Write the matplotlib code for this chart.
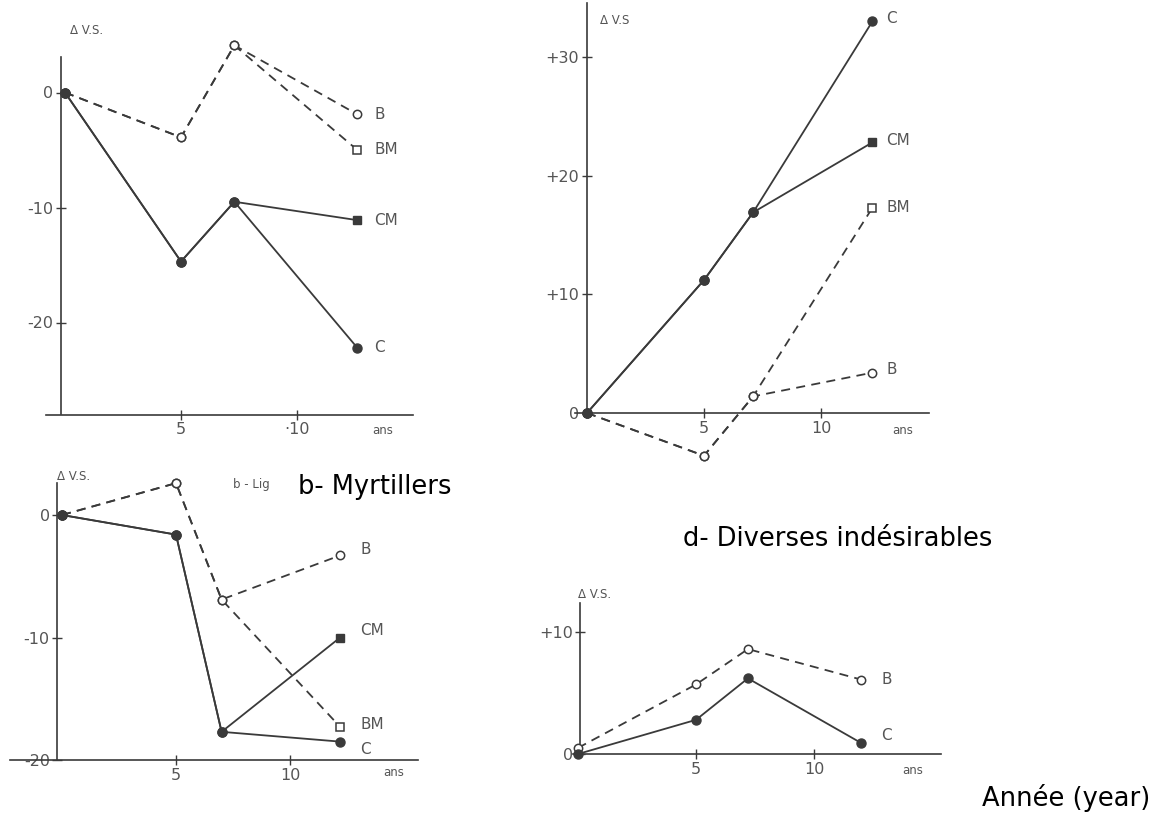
import matplotlib
matplotlib.use("Agg")
import matplotlib.pyplot as plt

W, H = 1164, 814

# top left panel
tl_x = [0, 5, 7.3, 12.6]
tl_B = [0, -3.9, 4.1, -1.9]
tl_BM = [0, -3.9, 4.1, -5.0]
tl_C = [0, -14.7, -9.5, -22.2]
tl_CM = [0, -14.7, -9.5, -11.1]

# top right panel
tr_x = [0, 5, 7.1, 12.2]
tr_C = [0, 11.2, 16.9, 33.0]
tr_CM = [0, 11.2, 16.9, 22.8]
tr_BM = [0, -3.6, 1.4, 17.3]
tr_B = [0, -3.6, 1.4, 3.4]

# bottom left panel
bl_x = [0, 5, 7.0, 12.2]
bl_B = [0, 2.6, -6.9, -3.3]
bl_BM = [0, 2.6, -6.9, -17.3]
bl_C = [0, -1.6, -17.7, -18.5]
bl_CM = [0, -1.6, -17.7, -10.0]

# bottom right panel
br_x = [0, 5, 7.2, 12.0]
br_B = [0.5, 5.7, 8.6, 6.1]
br_C = [0, 2.8, 6.2, 0.9]

ink = "#3a3a3a"
grey = "#555555"
plt.rcParams["font.family"] = ["DejaVu Sans"]

fig = plt.figure(figsize=(W / 100, H / 100), dpi=100)


def px_axes(xlim, ylim, x0, xs, y0, ys):
    left = x0 + xlim[0] * xs
    right = x0 + xlim[1] * xs
    top = y0 - ylim[1] * ys
    bottom = y0 - ylim[0] * ys
    ax = fig.add_axes([left / W, 1 - bottom / H, (right - left) / W, (bottom - top) / H])
    ax.set_xlim(xlim)
    ax.set_ylim(ylim)
    ax.patch.set_alpha(0)
    for s in ["top", "right"]:
        ax.spines[s].set_visible(False)
    for s in ["left", "bottom"]:
        ax.spines[s].set_color(ink)
        ax.spines[s].set_linewidth(1.2)
    ax.tick_params(direction="inout", length=7, width=1.0, color=ink,
                   labelsize=11.5, labelcolor=grey, pad=2)
    return ax


def solid(ax, x, y, end_marker, label, dx=17, dy=0):
    ax.plot(x, y, color=ink, lw=1.3, clip_on=False, zorder=3)
    ax.plot(x[:-1], y[:-1], "o", color=ink, ms=6.5, clip_on=False, zorder=4)
    ax.plot(x[-1:], y[-1:], end_marker, color=ink, ms=6.5 if end_marker == "o" else 5.5,
            clip_on=False, zorder=4)
    ax.annotate(label, (x[-1], y[-1]), xytext=(dx, dy), textcoords="offset pixels",
                fontsize=11, color=grey, va="center", ha="left", annotation_clip=False)


def dashed(ax, x, y, end_marker, label, dx=17, dy=0):
    ax.plot(x, y, color=ink, lw=1.3, dashes=(5, 3.5), clip_on=False, zorder=3)
    ax.plot(x[:-1], y[:-1], "o", mfc="white", mec=ink, mew=1.1, ms=6,
            clip_on=False, zorder=4)
    ax.plot(x[-1:], y[-1:], end_marker, mfc="white", mec=ink, mew=1.1,
            ms=6 if end_marker == "o" else 5.5, clip_on=False, zorder=4)
    ax.annotate(label, (x[-1], y[-1]), xytext=(dx, dy), textcoords="offset pixels",
                fontsize=11, color=grey, va="center", ha="left", annotation_clip=False)


# top left
ax1 = px_axes((-0.8, 15.0), (-28, 3.1), 65, 23.2, 92.5, 11.5)
ax1.spines["left"].set_position(("data", -0.17))
ax1.set_xticks([5, 10], ["5", "·10"])
ax1.set_yticks([0, -10, -20], ["0", "-10", "-20"])
dashed(ax1, tl_x, tl_BM, "s", "BM")
dashed(ax1, tl_x, tl_B, "o", "B")
solid(ax1, tl_x, tl_CM, "s", "CM")
solid(ax1, tl_x, tl_C, "o", "C")

# top right
ax2 = px_axes((-0.5, 14.6), (-4.8, 34.5), 587, 23.4, 413, 11.87)
ax2.spines["left"].set_position(("data", 0))
ax2.spines["left"].set_bounds(0, 34.5)
ax2.spines["bottom"].set_position(("data", 0))
ax2.set_xticks([5, 10], ["5", "10"])
ax2.set_yticks([0, 10, 20, 30], ["0", "+10", "+20", "+30"])
dashed(ax2, tr_x, tr_BM, "s", "BM", dx=14)
dashed(ax2, tr_x, tr_B, "o", "B", dx=14, dy=3)
solid(ax2, tr_x, tr_CM, "s", "CM", dx=14, dy=2)
solid(ax2, tr_x, tr_C, "o", "C", dx=14, dy=3)

# bottom left
ax3 = px_axes((-2.3, 15.6), (-20, 2.6), 62, 22.8, 515, 12.25)
ax3.spines["left"].set_position(("data", -0.2))
ax3.set_xticks([5, 10], ["5", "10"])
ax3.set_yticks([0, -10, -20], ["0", "-10", "-20"])
dashed(ax3, bl_x, bl_BM, "s", "BM", dx=20, dy=2)
dashed(ax3, bl_x, bl_B, "o", "B", dx=20, dy=6)
solid(ax3, bl_x, bl_CM, "s", "CM", dx=20, dy=7)
solid(ax3, bl_x, bl_C, "o", "C", dx=20, dy=-8)

# bottom right
ax4 = px_axes((-0.2, 15.4), (-0.6, 12.4), 578, 23.6, 754, 12.2)
ax4.spines["left"].set_position(("data", 0.1))
ax4.spines["left"].set_bounds(0, 12.4)
ax4.spines["bottom"].set_position(("data", 0))
ax4.set_xticks([5, 10], ["5", "10"])
ax4.set_yticks([0, 10], ["0", "+10"])
dashed(ax4, br_x, br_B, "o", "B", dx=20)
solid(ax4, br_x, br_C, "o", "C", dx=20, dy=8)

# axis captions from the scan
small = dict(fontsize=8.5, color=grey, ha="left", va="center")
fig.text(70 / W, 1 - 30 / H, "Δ V.S.", **small)
fig.text(372 / W, 1 - 430 / H, "ans", **small)
fig.text(600 / W, 1 - 20 / H, "Δ V.S", **small)
fig.text(892 / W, 1 - 430 / H, "ans", **small)
fig.text(57 / W, 1 - 477 / H, "Δ V.S.", **small)
fig.text(383 / W, 1 - 772 / H, "ans", **small)
fig.text(233 / W, 1 - 485 / H, "b - Lig", **small)
fig.text(578 / W, 1 - 595 / H, "Δ V.S.", **small)
fig.text(902 / W, 1 - 770 / H, "ans", **small)

# overlay titles
big = dict(fontsize=18.5, color="black", ha="left", va="center")
fig.text(298 / W, 1 - 487 / H, "b- Myrtillers", **big)
fig.text(683 / W, 1 - 539 / H, "d- Diverses indésirables", **big)
fig.text(1150 / W, 1 - 798 / H, "Année (year)", fontsize=18.5, color="black",
         ha="right", va="center")

fig.savefig("out.png", dpi=100)
